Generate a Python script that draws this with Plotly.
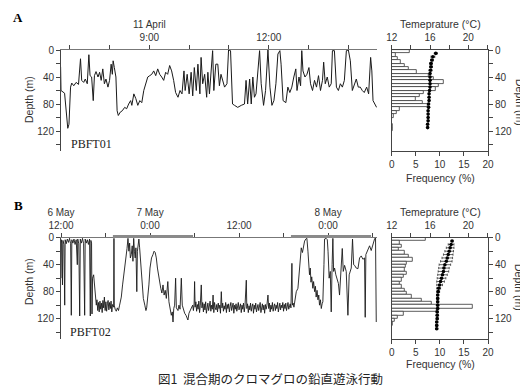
import plotly.graph_objects as go

W, H = 528, 388      # browser window
PAGE_MARGIN = 8      # default body margin of the html page
FW, FH = W - PAGE_MARGIN, H - PAGE_MARGIN

# ---------------- Panel A (PBFT01, 11 April) ----------------
a_hours = [6.77, 6.78, 6.87, 6.91, 6.95, 6.98, 7.02, 7.05, 7.10, 7.16,
           7.22, 7.27, 7.30, 7.35, 7.39, 7.44, 7.48, 7.51, 7.55, 7.59,
           7.62, 7.66, 7.71, 7.75, 7.79, 7.83, 7.87, 7.91, 7.96, 8.00,
           8.04, 8.07, 8.09, 8.12, 8.16, 8.19, 8.22, 8.27, 8.32, 8.38,
           8.43, 8.48, 8.53, 8.56, 8.61, 8.66, 8.71, 8.76, 8.81, 8.86,
           8.91, 8.96, 9.01, 9.06, 9.11, 9.16, 9.21, 9.26, 9.31, 9.36,
           9.41, 9.46, 9.51, 9.56, 9.61, 9.66, 9.72, 9.77, 9.82, 9.87,
           9.90, 9.95, 10.00, 10.05, 10.09, 10.13, 10.18, 10.22, 10.27, 10.30,
           10.34, 10.39, 10.44, 10.47, 10.51, 10.55, 10.59, 10.62, 10.67, 10.72,
           10.76, 10.80, 10.85, 10.89, 10.95, 10.99, 11.04, 11.09, 11.14, 11.22,
           11.31, 11.39, 11.43, 11.47, 11.52, 11.56, 11.60, 11.64, 11.68, 11.73,
           11.77, 11.81, 11.87, 11.92, 11.98, 12.03, 12.08, 12.13, 12.18, 12.23,
           12.28, 12.31, 12.36, 12.43, 12.48, 12.53, 12.58, 12.63, 12.68, 12.71,
           12.76, 12.80, 12.83, 12.86, 12.91, 12.96, 13.01, 13.05, 13.10, 13.15,
           13.20, 13.25, 13.30, 13.35, 13.38, 13.42, 13.47, 13.52, 13.57, 13.60,
           13.65, 13.70, 13.75, 13.80, 13.85, 13.90, 13.95, 14.00, 14.05, 14.10,
           14.15, 14.20, 14.25, 14.30, 14.35, 14.40, 14.46, 14.51, 14.56, 14.59,
           14.62, 14.67, 14.71]
a_depth = [25, 60, 64, 90, 116, 110, 55, 49, 53, 48,
           51, 13, 45, 48, 43, 50, 7, 38, 40, 75,
           38, 32, 40, 33, 45, 28, 50, 43, 55, 45,
           21, 36, 16, 26, 40, 90, 97, 92, 90, 85,
           87, 80, 75, 82, 65, 72, 82, 75, 78, 60,
           50, 40, 38, 36, 31, 38, 28, 36, 40, 45,
           33, 36, 23, 31, 45, 63, 70, 60, 65, 31,
           60, 36, 65, 33, 68, 26, 60, 21, 65, 11,
           50, 36, 70, 33, 65, 26, 1, 60, 21, 21,
           53, 36, 45, 55, 50, 0, 1, 80, 82, 85,
           82, 80, 45, 80, 43, 80, 40, 70, 65, 31,
           1, 50, 82, 60, 0, 55, 82, 75, 50, 6,
           1, 21, 75, 78, 55, 63, 55, 40, 28, 60,
           40, 53, 1, 31, 40, 36, 26, 50, 60, 45,
           55, 38, 60, 45, 18, 50, 40, 55, 50, 1,
           1, 55, 60, 50, 55, 45, 1, 0, 16, 60,
           50, 43, 55, 55, 60, 63, 55, 65, 11, 31,
           75, 80, 85]

a_tick_hours = [7, 8, 9, 10, 11, 12, 13, 14]
a_tick_text = ["", "", "11 April<br>9:00", "", "", "12:00", "", ""]

a_bin_top = [0, 5, 10, 15, 20, 25, 30, 35, 40, 45, 50, 55,
             60, 65, 70, 75, 80, 85, 90, 95, 100, 105, 110, 115]
a_freq = [3.8, 0.8, 1.2, 1.8, 2.6, 3.6, 5.2, 7.6, 8.8, 10.8, 9.8, 9.2,
          6.6, 5.8, 5.0, 6.4, 7.4, 1.6, 1.0, 0.4, 0, 0, 0.3, 0.2]

a_temp_depth = [5, 10, 15, 20, 25, 30, 35, 40, 45, 50, 55, 60,
                65, 70, 75, 80, 85, 90, 95, 100, 105, 110, 115]
a_temp = [16.6, 16.3, 16.2, 16.1, 16.1, 16.05, 16.0, 16.0, 16.0, 16.0, 16.0, 15.95,
          15.9, 15.9, 15.9, 15.85, 15.85, 15.8, 15.8, 15.8, 15.8, 15.75, 15.75]
a_temp_err = [0.15, 0.2, 0.15, 0.15, 0.15, 0.15, 0.05, 0.05, 0.05, 0.05, 0.05, 0.05,
              0.05, 0.05, 0.05, 0.05, 0.05, 0.05, 0.05, 0.05, 0.05, 0.05, 0.05]

# ---------------- Panel B (PBFT02, 6-8 May), hours since 6 May 0:00 ----------------
b_hours = [12.00, 12.04, 12.12, 12.20, 12.26, 12.40, 12.50, 12.56, 12.70, 12.85,
           13.00, 13.15, 13.30, 13.39, 13.46, 13.60, 13.75, 13.90, 14.05, 14.20,
           14.26, 14.40, 14.52, 14.60, 14.75, 14.90, 15.05, 15.19, 15.26, 15.40,
           15.55, 15.70, 15.85, 15.95, 16.03, 16.12, 16.18, 16.25, 16.40, 16.55,
           16.65, 16.76, 16.85, 16.95, 17.05, 17.15, 17.25, 17.35, 17.45, 17.55,
           17.65, 17.75, 17.85, 17.95, 18.05, 18.15, 18.25, 18.35, 18.45, 18.55,
           18.65, 18.75, 18.85, 18.95, 19.10, 19.14, 19.18, 19.30, 19.45, 19.60,
           19.75, 19.90, 20.13, 20.30, 20.45, 20.58, 20.70, 20.90, 21.03, 21.15,
           21.25, 21.35, 21.48, 21.60, 21.70, 21.80, 21.90, 22.00, 22.10, 22.22,
           22.30, 22.40, 22.50, 22.60, 22.75, 22.90, 23.10, 23.30, 23.45, 23.55,
           23.70, 23.85, 24.00, 24.20, 24.40, 24.55, 24.70, 24.85, 25.00, 25.15,
           25.30, 25.45, 25.60, 25.75, 25.90, 26.05, 26.20, 26.40, 26.55, 26.70,
           26.87, 27.00, 27.10, 27.20, 27.32, 27.45, 27.55, 27.77, 27.90, 28.05,
           28.22, 28.35, 28.50, 28.67, 28.85, 29.00, 29.11, 29.25, 29.40, 29.56,
           29.75, 29.85, 29.95, 30.01, 30.08, 30.18, 30.28, 30.38, 30.48, 30.58,
           30.68, 30.78, 30.91, 31.00, 31.10, 31.20, 31.30, 31.40, 31.50, 31.60,
           31.70, 31.80, 31.90, 32.00, 32.10, 32.20, 32.30, 32.40, 32.50, 32.60,
           32.70, 32.80, 32.90, 33.00, 33.10, 33.20, 33.30, 33.40, 33.50, 33.61,
           33.70, 33.80, 33.90, 34.00, 34.10, 34.20, 34.30, 34.40, 34.50, 34.60,
           34.70, 34.80, 34.90, 35.00, 35.10, 35.20, 35.30, 35.40, 35.50, 35.60,
           35.70, 35.80, 35.90, 36.00, 36.10, 36.20, 36.30, 36.40, 36.50, 36.60,
           36.70, 36.80, 36.98, 37.05, 37.15, 37.25, 37.35, 37.45, 37.55, 37.65,
           37.75, 37.85, 37.95, 38.05, 38.15, 38.25, 38.35, 38.45, 38.55, 38.65,
           38.75, 38.85, 38.95, 39.05, 39.15, 39.25, 39.35, 39.45, 39.55, 39.65,
           39.75, 39.90, 40.00, 40.10, 40.20, 40.30, 40.40, 40.50, 40.60, 40.70,
           40.80, 40.90, 41.00, 41.10, 41.20, 41.30, 41.40, 41.50, 41.60, 41.70,
           41.80, 41.90, 42.00, 42.10, 42.20, 42.30, 42.40, 42.50, 42.60, 42.70,
           42.80, 42.90, 43.00, 43.13, 43.20, 43.30, 43.40, 43.49, 43.72, 43.94,
           44.16, 44.39, 44.55, 44.70, 44.84, 45.00, 45.15, 45.29, 45.40, 45.50,
           45.60, 45.70, 45.80, 45.95, 46.05, 46.19, 46.30, 46.40, 46.52, 46.64,
           46.75, 46.85, 46.97, 47.09, 47.20, 47.30, 47.45, 47.53, 47.75, 47.90,
           48.00, 48.15, 48.30, 48.43, 48.55, 48.65, 48.75, 48.88, 49.05, 49.20,
           49.40, 49.55, 49.70, 49.92, 50.05, 50.23, 50.45, 50.68, 50.85, 51.13,
           51.30, 51.45, 51.58, 51.80, 52.03, 52.25, 52.48, 52.70, 52.92, 53.01,
           53.10, 53.37, 53.60, 53.82, 54.05, 54.27, 54.40, 54.50]
b_depth = [60, 3, 8, 70, 4, 10, 100, 3, 9, 2,
           7, 1, 9, 115, 3, 8, 2, 10, 3, 40,
           2, 9, 116, 2, 8, 1, 9, 115, 2, 8,
           3, 10, 2, 116, 4, 8, 113, 60, 55, 80,
           95, 100, 92, 108, 96, 110, 94, 106, 97, 111,
           93, 104, 88, 108, 95, 109, 98, 93, 107, 96,
           105, 94, 110, 99, 103, 1, 100, 106, 109, 104,
           108, 100, 88, 70, 58, 46, 30, 16, 1, 20,
           8, 30, 25, 12, 35, 1, 20, 30, 15, 80,
           20, 10, 2, 15, 40, 65, 90, 100, 108, 104,
           90, 70, 45, 30, 25, 20, 22, 30, 45, 55,
           70, 75, 82, 70, 85, 78, 90, 65, 95, 105,
           115, 110, 125, 105, 100, 60, 104, 108, 100, 106,
           60, 100, 108, 112, 115, 118, 122, 112, 108, 105,
           100, 108, 97, 65, 103, 95, 109, 99, 106, 94,
           111, 100, 70, 104, 96, 110, 98, 107, 95, 112,
           101, 97, 108, 103, 94, 109, 100, 106, 85, 111,
           96, 104, 107, 99, 110, 97, 105, 100, 112, 80,
           104, 97, 109, 101, 106, 96, 111, 99, 105, 98,
           110, 102, 96, 108, 103, 97, 112, 100, 106, 98,
           109, 101, 96, 107, 104, 98, 111, 100, 106, 97,
           110, 102, 63, 105, 98, 111, 101, 107, 97, 109,
           102, 98, 112, 100, 106, 97, 110, 103, 99, 108,
           101, 96, 111, 104, 98, 107, 100, 112, 99, 106,
           101, 85, 105, 97, 110, 100, 106, 96, 109, 102,
           98, 108, 100, 105, 96, 110, 101, 97, 107, 100,
           104, 96, 109, 99, 105, 97, 108, 100, 96, 106,
           101, 98, 104, 38, 100, 97, 103, 96, 80, 75,
           40, 15, 22, 10, 5, 2, 1, 20, 40, 55,
           45, 66, 58, 75, 65, 80, 72, 88, 78, 92,
           85, 100, 92, 105, 98, 95, 40, 2, 1, 3,
           20, 60, 50, 110, 40, 1, 50, 45, 55, 60,
           68, 85, 55, 16, 50, 41, 50, 115, 55, 45,
           2, 40, 41, 45, 46, 30, 27, 32, 30, 118,
           25, 19, 12, 19, 8, 2, 0, 125]

b_tick_hours = [12, 18, 24, 30, 36, 42, 48, 54]
b_tick_text = ["6 May<br>12:00", "", "7 May<br>0:00", "", "12:00", "", "8 May<br>0:00", ""]

night_start = [19.0, 43.0]
night_end = [29.8, 53.8]

b_bin_top = [0, 5, 10, 15, 20, 25, 30, 35, 40, 45, 50, 55, 60,
             65, 70, 75, 80, 85, 90, 95, 100, 105, 110, 115, 120, 125]
b_freq = [7.0, 1.7, 2.1, 1.4, 2.8, 3.5, 4.4, 3.1, 2.9, 2.8, 3.1, 2.4, 2.1,
          1.7, 2.1, 2.8, 3.1, 4.2, 6.3, 8.3, 16.9, 9.4, 2.4, 1.2, 0.7, 0.3]

b_temp_depth = [5, 10, 15, 20, 25, 30, 35, 40, 45, 50, 55, 60, 65, 70,
                75, 80, 85, 90, 95, 100, 105, 110, 115, 120, 125, 130, 135]
b_temp = [18.3, 18.2, 18.1, 18.0, 17.9, 17.8, 17.7, 17.55, 17.45, 17.4, 17.3, 17.2, 17.1, 17.0,
          16.9, 16.85, 16.8, 16.8, 16.8, 16.8, 16.8, 16.75, 16.75, 16.75, 16.7, 16.7, 16.7]
b_temp_err = [0.1, 0.3, 0.4, 0.45, 0.5, 0.55, 0.6, 0.6, 0.55, 0.55, 0.5, 0.45, 0.4, 0.3,
              0.2, 0.15, 0.1, 0.1, 0.1, 0.1, 0.1, 0.1, 0.1, 0.1, 0.1, 0.1, 0.1]

depth_ticks = [0, 20, 40, 60, 80, 100, 120, 140]
depth_tick_text = ["0", "", "40", "", "80", "", "120", ""]
freq_ticks = [0, 5, 10, 15, 20]
temp_ticks = [12, 14, 16, 18, 20, 22]
temp_tick_text = ["12", "", "16", "", "20", ""]

# ---------------- helpers: page pixel -> paper fraction ----------------
def fx(x):
    return (x - PAGE_MARGIN) / FW

def fy(y):
    return 1 - (y - PAGE_MARGIN) / FH

FONT = "Liberation Sans, Arial, sans-serif"
SERIF = "Liberation Serif, Times New Roman, serif"
AX_COL = "#444"
TXT_COL = "#333"

fig = go.Figure()

# Panel A series
fig.add_trace(go.Scatter(x=a_hours, y=a_depth, mode="lines",
                         line=dict(color="#1a1a1a", width=1),
                         xaxis="x", yaxis="y", showlegend=False, hoverinfo="skip"))
fig.add_trace(go.Bar(x=a_freq, y=[d + 2.5 for d in a_bin_top], orientation="h", width=5,
                     marker=dict(color="white", line=dict(color="#333", width=0.8)),
                     xaxis="x2", yaxis="y2", showlegend=False))
fig.add_trace(go.Scatter(x=a_temp, y=a_temp_depth, mode="markers",
                         marker=dict(color="black", size=3.6),
                         error_x=dict(type="data", array=a_temp_err, color="#222",
                                      thickness=0.7, width=1.2),
                         xaxis="x3", yaxis="y2", showlegend=False))

# Panel B series
fig.add_trace(go.Scatter(x=b_hours, y=b_depth, mode="lines",
                         line=dict(color="#1a1a1a", width=0.9),
                         xaxis="x4", yaxis="y3", showlegend=False, hoverinfo="skip"))
fig.add_trace(go.Bar(x=b_freq, y=[d + 2.5 for d in b_bin_top], orientation="h", width=5,
                     marker=dict(color="white", line=dict(color="#333", width=0.8)),
                     xaxis="x5", yaxis="y4", showlegend=False))
fig.add_trace(go.Scatter(x=b_temp, y=b_temp_depth, mode="markers",
                         marker=dict(color="black", size=3.6),
                         error_x=dict(type="data", array=b_temp_err, color="#222",
                                      thickness=0.7, width=1.2),
                         xaxis="x6", yaxis="y4", showlegend=False))

# night bars along the top of panel B
shapes = []
for s, e in zip(night_start, night_end):
    shapes.append(dict(type="line", xref="x4", yref="paper", x0=s, x1=e,
                       y0=fy(236.5), y1=fy(236.5),
                       line=dict(color="#8a8a8a", width=3), layer="above"))

base = dict(showline=True, linecolor=AX_COL, linewidth=1, ticks="outside",
            tickcolor=AX_COL, ticklen=4, tickwidth=1, showgrid=False, zeroline=False,
            tickfont=dict(family=FONT, size=10, color=TXT_COL), fixedrange=True,
            automargin=False)

main_x = [fx(61), fx(377)]
hist_x = [fx(391.7), fx(488)]
a_y = [fy(151.25), fy(50)]
b_y = [fy(338.9), fy(237.7)]

layout = dict(
    width=FW, height=FH, margin=dict(l=0, r=0, t=0, b=0, autoexpand=False),
    paper_bgcolor="white", plot_bgcolor="white", showlegend=False,
    bargap=0, shapes=shapes,
    xaxis=dict(base, domain=main_x, anchor="y", side="top", range=[6.78, 14.72],
               tickvals=a_tick_hours, ticktext=a_tick_text, linecolor="#777"),
    yaxis=dict(base, domain=a_y, anchor="x", range=[150, 0],
               tickvals=depth_ticks, ticktext=depth_tick_text),
    xaxis2=dict(base, domain=hist_x, anchor="y2", side="bottom", range=[0, 20],
                tickvals=freq_ticks),
    xaxis3=dict(base, overlaying="x2", anchor="y2", side="top", range=[12, 22.05],
                tickvals=temp_ticks, ticktext=temp_tick_text),
    yaxis2=dict(base, domain=a_y, anchor="x2", side="right", range=[150, 0],
                tickvals=depth_ticks, ticktext=depth_tick_text, mirror=True),
    xaxis4=dict(base, domain=main_x, anchor="y3", side="top", range=[12, 54.6],
                tickvals=b_tick_hours, ticktext=b_tick_text, linecolor="#777"),
    yaxis3=dict(base, domain=b_y, anchor="x4", range=[150, 0],
                tickvals=depth_ticks, ticktext=depth_tick_text),
    xaxis5=dict(base, domain=hist_x, anchor="y4", side="bottom", range=[0, 20],
                tickvals=freq_ticks),
    xaxis6=dict(base, overlaying="x5", anchor="y4", side="top", range=[12, 22.05],
                tickvals=temp_ticks, ticktext=temp_tick_text),
    yaxis4=dict(base, domain=b_y, anchor="x5", side="right", range=[150, 0],
                tickvals=depth_ticks, ticktext=depth_tick_text, mirror=True),
)
fig.update_layout(**layout)

def note(text, x, y, size=10, family=FONT, angle=0, color=TXT_COL, xanchor="center"):
    return dict(text=text, x=fx(x), y=fy(y), xref="paper", yref="paper",
                showarrow=False, textangle=angle, xanchor=xanchor, yanchor="middle",
                font=dict(family=family, size=size, color=color))

annotations = [
    note("<b>A</b>", 18, 18, size=13, family=SERIF, color="black"),
    note("<b>B</b>", 18, 206, size=13, family=SERIF, color="black"),
    note("PBFT01", 69, 144, size=12, family=SERIF, color="#222", xanchor="left"),
    note("PBFT02", 68, 332, size=12, family=SERIF, color="#222", xanchor="left"),
    note("Depth (m)", 29, 100, size=10.5, angle=-90),
    note("Depth (m)", 29, 282, size=10.5, angle=-90),
    note("Depth (m)", 520, 102, size=10.5, angle=90),
    note("Depth (m)", 519, 287, size=10.5, angle=90),
    note("Temeprature (°C)", 440, 24, size=10.5),
    note("Temeprature (°C)", 440, 212, size=10.5),
    note("Frequency (%)", 440, 178, size=10.5),
    note("Frequency (%)", 440, 364, size=10.5),
    note("図1  混合期のクロマグロの鉛直遊泳行動", 270, 378, size=12.5,
         family="Noto Sans CJK JP", color="#222"),
]
fig.update_layout(annotations=annotations)

fig.write_html("out.html")
